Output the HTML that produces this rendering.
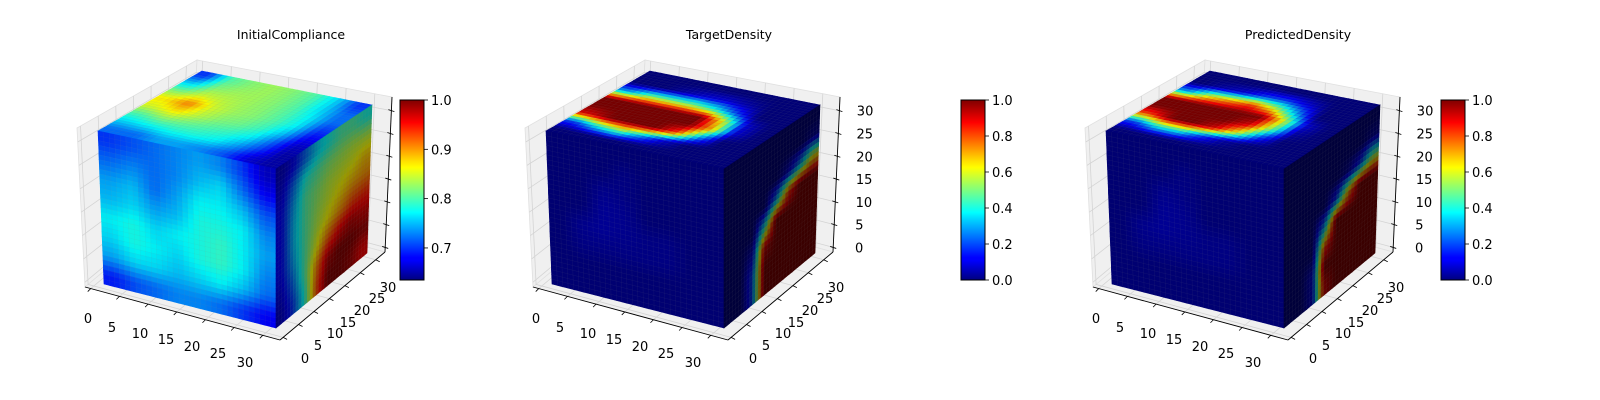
<!DOCTYPE html>
<html><head><meta charset="utf-8">
<style>
html,body{margin:0;padding:0;background:#fff;}
svg{display:block;font-family:"DejaVu Sans","Liberation Sans",sans-serif;}
</style></head>
<body>
<svg id="fig" width="1600" height="400" viewBox="0 0 1600 400" xmlns="http://www.w3.org/2000/svg">
<defs>
<linearGradient id="jetv" x1="0" y1="1" x2="0" y2="0">
<stop offset="0" stop-color="#00007f"/><stop offset="0.11" stop-color="#0000ff"/><stop offset="0.125" stop-color="#0000ff"/>
<stop offset="0.34" stop-color="#00d8ff"/><stop offset="0.375" stop-color="#00ffff"/><stop offset="0.5" stop-color="#7fff7f"/>
<stop offset="0.625" stop-color="#ffff00"/><stop offset="0.66" stop-color="#ffe000"/><stop offset="0.875" stop-color="#ff0000"/><stop offset="1" stop-color="#7f0000"/>
</linearGradient>
</defs>
</svg>
<script>
// ---- data: panel titles, colorbar ranges, ticks ----
const titles = ["InitialCompliance", "TargetDensity", "PredictedDensity"];
const cbarMin = [0.635, 0, 0];
const cbarMax = [1.0, 1, 1];
const cbarTicks1 = ["0.7", "0.8", "0.9", "1.0"];
const cbarTicks23 = ["0.0", "0.2", "0.4", "0.6", "0.8", "1.0"];
const axisTicks = ["0", "5", "10", "15", "20", "25", "30"];

// face value grids (rows top/back -> bottom/front, cols left -> right)
const p1Front = [
[.70,.71,.72,.73,.74,.73,.70,.66],
[.72,.73,.72,.73,.75,.76,.72,.68],
[.74,.75,.72,.74,.77,.77,.75,.71],
[.75,.76,.74,.75,.78,.78,.77,.73],
[.77,.78,.76,.77,.78,.79,.77,.74],
[.76,.78,.77,.76,.78,.79,.77,.73],
[.74,.76,.76,.75,.76,.77,.75,.72],
[.69,.71,.72,.73,.73,.72,.70,.68]];
const p1Top = [
[.70,.80,.82,.83,.82,.80,.76,.70],
[.76,.82,.83,.83,.82,.80,.76,.72],
[.82,.85,.84,.83,.82,.80,.77,.72],
[.87,.91,.85,.83,.82,.80,.77,.70],
[.85,.87,.84,.82,.81,.79,.75,.68],
[.80,.82,.81,.80,.79,.77,.72,.66],
[.76,.77,.78,.78,.77,.74,.70,.65],
[.72,.72,.74,.74,.73,.71,.67,.65]];
const p1Right = [
[.66,.68,.72,.76,.78,.80,.80,.78],
[.67,.72,.78,.80,.82,.83,.84,.84],
[.68,.74,.80,.82,.84,.85,.86,.88],
[.68,.75,.80,.83,.85,.87,.89,.90],
[.68,.75,.80,.84,.87,.90,.93,.94],
[.68,.74,.80,.86,.92,.96,.98,.97],
[.67,.72,.80,.90,.98,1.0,1.0,.99],
[.66,.70,.78,.92,1.0,1.0,.99,.96]];
const p2Front = [
[0,0,0,0,0,0,0,0],[0,0,0,.02,0,0,0,0],[0,0,.03,.02,0,0,0,0],[0,0,.04,.03,0,0,0,0],
[0,.03,.04,.03,.02,.02,0,0],[0,.02,.02,.02,.02,.02,0,0],[0,0,0,0,0,0,0,0],[0,0,0,0,0,0,0,0]];
const p2Top = [
[0,0,0,0,0,0,0,0],
[0,0,.05,.1,.1,.05,0,0],
[.3,.5,.5,.5,.4,.2,0,0],
[1,1,1,1,1,.6,.1,0],
[1,1,1,1,1,.7,.1,0],
[.9,1,1,1,.8,.3,0,0],
[.2,.4,.5,.3,.1,0,0,0],
[0,0,0,0,0,0,0,0]];
const p2Right = [
[0,0,0,0,0,0,0,0],
[0,0,0,0,0,0,0,.05],
[0,0,0,0,0,.1,.3,.6],
[0,0,0,0,.3,.8,1,1],
[0,0,0,.4,1,1,1,1],
[0,0,.1,.9,1,1,1,1],
[0,0,.2,1,1,1,1,1],
[0,0,.2,1,1,1,1,1]];
const p3Front = p2Front;
const p3Top = [
[0,0,0,0,0,0,0,0],
[0,.05,.1,.2,.2,.1,0,0],
[.3,.6,.7,.8,.6,.3,0,0],
[1,1,1,1,1,.6,.1,0],
[1,1,1,1,.9,.5,.05,0],
[.8,1,1,.9,.6,.2,0,0],
[.2,.4,.4,.2,.05,0,0,0],
[0,0,0,0,0,0,0,0]];
const p3Right = [
[0,0,0,0,0,0,0,0],
[0,0,0,0,0,0,0,.05],
[0,0,0,0,0,.05,.2,.5],
[0,0,0,0,.2,.7,1,1],
[0,0,0,.3,1,1,1,1],
[0,0,0,.8,1,1,1,1],
[0,0,.1,1,1,1,1,1],
[0,0,.1,.9,1,1,1,1]];
const faceData = [[p1Front,p1Top,p1Right],[p2Front,p2Top,p2Right],[p3Front,p3Top,p3Right]];

// ---- geometry ----
const NS = "http://www.w3.org/2000/svg";
const svg = document.getElementById("fig");
const offsets = [0, 448, 1008];
const titleX = [291, 729, 1298];
const cbarX = [400, 961, 1441];
const CB_TOP = 100, CB_BOT = 280;
const A=[98,131],B=[276,169],C=[276,328],D=[104,284],E=[202,71],F=[372,105],G=[367,253];
const shade = [[0.95,0.97,0.6],[0.88,0.92,0.45],[0.88,0.92,0.45]];

function mk(tag, attrs, parent){const e=document.createElementNS(NS,tag);for(const k in attrs)e.setAttribute(k,attrs[k]);(parent||svg).appendChild(e);return e;}
function jet(x){x=Math.max(0,Math.min(1,x));const c=t=>Math.round(255*Math.max(0,Math.min(1,1.5-Math.abs(4*x-t))));return [c(3),c(2),c(1)];}
function bil(q,u,v){
  const x=(1-u)*(1-v)*q[0][0]+u*(1-v)*q[1][0]+u*v*q[2][0]+(1-u)*v*q[3][0];
  const y=(1-u)*(1-v)*q[0][1]+u*(1-v)*q[1][1]+u*v*q[2][1]+(1-u)*v*q[3][1];
  return [x,y];}
function sample(g,u,v){const n=g.length,m=g[0].length;
  let fy=v*n-0.5, fx=u*m-0.5; fy=Math.max(0,Math.min(n-1,fy)); fx=Math.max(0,Math.min(m-1,fx));
  const y0=Math.floor(fy),x0=Math.floor(fx),y1=Math.min(n-1,y0+1),x1=Math.min(m-1,x0+1),ty=fy-y0,tx=fx-x0;
  return (g[y0][x0]*(1-tx)+g[y0][x1]*tx)*(1-ty)+(g[y1][x0]*(1-tx)+g[y1][x1]*tx)*ty;}
function P(p,o){return [p[0]+o,p[1]];}
function pts(arr){return arr.map(p=>p[0].toFixed(1)+","+p[1].toFixed(1)).join(" ");}

function drawFace(g, q, vmin, vmax, sh, parent, name){
  const grp=mk("g",{},parent);
  
  
  const N=32;
  for(let i=0;i<N;i++)for(let j=0;j<N;j++){
    const v=sample(g,(j+0.5)/N,(i+0.5)/N);
    const c=jet((v-vmin)/(vmax-vmin)).map(x=>Math.round(x*sh));
    const p=[bil(q,j/N,i/N),bil(q,(j+1)/N,i/N),bil(q,(j+1)/N,(i+1)/N),bil(q,j/N,(i+1)/N)];
    const cell=mk("polygon",{points:pts(p),fill:`rgb(${c})`,stroke:`rgb(${c})`,"stroke-width":"0.6"},grp);
    
    
  }
  for(let k=1;k<N;k++){
    const a=bil(q,k/N,0),b=bil(q,k/N,1),c2=bil(q,0,k/N),d=bil(q,1,k/N);
    mk("line",{x1:a[0],y1:a[1],x2:b[0],y2:b[1],stroke:"rgba(140,140,140,0.12)","stroke-width":"0.5"},grp);
    mk("line",{x1:c2[0],y1:c2[1],x2:d[0],y2:d[1],stroke:"rgba(140,140,140,0.12)","stroke-width":"0.5"},grp);
  }
}

for(let p=0;p<3;p++){
  const o=offsets[p];
  const panel=mk("g",{});
  
  
  const t=mk("text",{x:titleX[p],y:39,"text-anchor":"middle","font-size":"12.5",fill:"#000"},panel);
  t.textContent=titles[p];
  
  
  const P0=[85,287],P1=[280,340],P2=[385,252],P3=[190,199],L1=[77,128],L2=[197,60],R2=[392,97];
  const panes=[[P0,L1,L2,P3],[P3,L2,R2,P2],[P0,P3,P2,P1]];
  const pnames=['left-pane','back-pane','floor-pane'];
  panes.forEach((q,i)=>{const e=mk("polygon",{points:pts(q.map(x=>P(x,o))),fill:"#f0f0f0",stroke:"#e0e0e0","stroke-width":"0.8"},panel);
    
    });
  const fr=k=>(1+5*k)/34;
  for(let k=0;k<7;k++){
    const f=fr(k);
    const lerp=(a,b,f)=>[a[0]+(b[0]-a[0])*f,a[1]+(b[1]-a[1])*f];
    const seg=(a,b,c)=>{mk("polyline",{points:pts([a,b,c].map(x=>P(x,o))),fill:"none",stroke:"#d4d4d4","stroke-width":"0.8"},panel);};
    seg(lerp(P0,P1,f),lerp(P3,P2,f),lerp(L2,R2,f));
    seg(lerp(P1,P2,f),lerp(P0,P3,f),lerp(L1,L2,f));
    seg(lerp(P0,L1,f),lerp(P3,L2,f),lerp(P2,R2,f));
  }
  const [gf,gt,gr]=faceData[p];
  const vmin=cbarMin[p],vmax=cbarMax[p];
  drawFace(gt,[P(E,o),P(F,o),P(B,o),P(A,o)],vmin,vmax,shade[p][1],panel,'cube-top-face');
  drawFace(gf,[P(A,o),P(B,o),P(C,o),P(D,o)],vmin,vmax,shade[p][0],panel,'cube-front-face');
  drawFace(gr,[P(B,o),P(F,o),P(G,o),P(C,o)],vmin,vmax,shade[p][2],panel,'cube-right-face');
  const ax=[[P0,P1],[P1,P2],[P2,R2]];
  const axn=['x-axis-line','y-axis-line','z-axis-line'];
  ax.forEach((s,i)=>{const e=mk("line",{x1:s[0][0]+o,y1:s[0][1],x2:s[1][0]+o,y2:s[1][1],stroke:"#000","stroke-width":"0.9"},panel);
     });
  const xl=[[88,318],[112,327],[140,333],[166,339],[192,346],[218,353],[245,362]];
  const yl=[[305,358],[318,345],[335,333],[348,322],[362,310],[377,298],[388,287]];
  for(let k=0;k<7;k++){
    const f=fr(k);
    const xa=[P0[0]+(P1[0]-P0[0])*f,P0[1]+(P1[1]-P0[1])*f];
    mk("line",{x1:xa[0]+o,y1:xa[1],x2:xa[0]+o-3,y2:xa[1]+3,stroke:"#000","stroke-width":"0.8"},panel);
    const ya=[P1[0]+(P2[0]-P1[0])*f,P1[1]+(P2[1]-P1[1])*f];
    mk("line",{x1:ya[0]+o,y1:ya[1],x2:ya[0]+o+4,y2:ya[1]+2,stroke:"#000","stroke-width":"0.8"},panel);
    const za=[P2[0]+(R2[0]-P2[0])*f,P2[1]+(R2[1]-P2[1])*f];
    mk("line",{x1:za[0]+o-3,y1:za[1]-1,x2:za[0]+o+3,y2:za[1]+1,stroke:"#000","stroke-width":"0.8"},panel);
    const tx=mk("text",{x:xl[k][0]+o,y:xl[k][1]+5,"text-anchor":"middle","font-size":"13",fill:"#000"},panel);
    tx.textContent=axisTicks[k];
     
    const ty=mk("text",{x:yl[k][0]+o,y:yl[k][1]+5,"text-anchor":"middle","font-size":"13",fill:"#000"},panel);
    ty.textContent=axisTicks[k];
     
    if(p>0){
      const tz=mk("text",{x:407+k*0.3+o,y:za[1]+5,"text-anchor":"start","font-size":"13",fill:"#000"},panel);
      tz.textContent=axisTicks[k];
       
    }
  }
  const cx=cbarX[p];
  const cb=mk("rect",{x:cx,y:CB_TOP,width:24,height:CB_BOT-CB_TOP,fill:"url(#jetv)",stroke:"#000","stroke-width":"1"},panel);
   
  const labs = p===0?cbarTicks1:cbarTicks23;
  labs.forEach(l=>{
    const v=parseFloat(l);
    const y=CB_BOT-(v-vmin)/(vmax-vmin)*(CB_BOT-CB_TOP);
    mk("line",{x1:cx+24,y1:y,x2:cx+28,y2:y,stroke:"#000","stroke-width":"0.8"},panel);
    const tl=mk("text",{x:cx+31,y:y+5,"font-size":"13",fill:"#000"},panel);
    tl.textContent=l;
     
  });
}
</script>
</body></html>
